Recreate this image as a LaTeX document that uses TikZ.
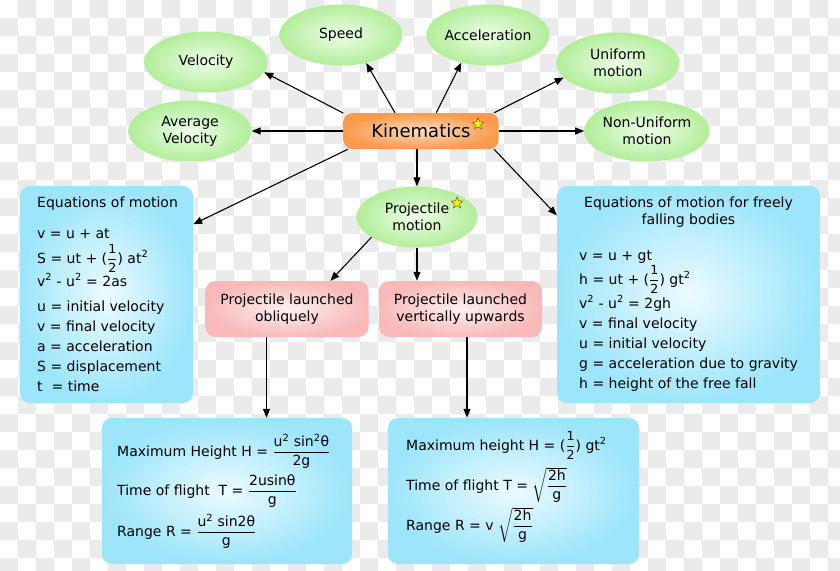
\documentclass[tikz,border=0pt]{standalone}
\usepackage{fontspec}
\usepackage{amsmath}
\setmainfont{DejaVu Sans}
\usetikzlibrary{shapes.geometric,arrows.meta}
\definecolor{checkgray}{HTML}{EBEBEB}
\definecolor{grin}{HTML}{EEFDE8}
\definecolor{grout}{HTML}{B2EE9A}
\definecolor{blin}{HTML}{ECFBFF}
\definecolor{blout}{HTML}{9CE5FB}
\definecolor{pkin}{HTML}{FCF0F0}
\definecolor{pkout}{HTML}{F9B9B9}
\definecolor{orin}{HTML}{FDDCC2}
\definecolor{orout}{HTML}{F99A4C}
\newcommand\sq{\textsuperscript{2}}
\newcommand\myhalf{(\ensuremath{\dfrac{\text{\fontsize{12.5}{14}\selectfont 1}}{\text{\fontsize{12.5}{14}\selectfont 2}}})}
\tikzset{
  ell/.style={ellipse, minimum width=123pt, minimum height=61pt, inner sep=0pt,
    inner color=grin, outer color=grout, align=center},
  kinbox/.style={rectangle, rounded corners=9pt, minimum width=155pt, minimum height=36pt,
    inner color=orin, outer color=orout, font=\fontsize{18}{20}\selectfont},
  bluebox/.style={rectangle, rounded corners=10pt, inner color=blin, outer color=blout},
  pinkbox/.style={rectangle, rounded corners=10pt, minimum width=163pt, minimum height=56pt,
    inner color=pkin, outer color=pkout, align=center},
  txt/.style={anchor=base west, inner sep=0pt},
  arr/.style={-{Triangle[length=9pt,width=7pt]}, line width=1.1pt},
  staricon/.style={star, star points=5, star point ratio=2.2, minimum size=12pt, inner sep=0pt,
    fill=yellow, draw=olive!70!black, line width=0.6pt}
}
\begin{document}
\begin{tikzpicture}[x=1pt,y=-1pt, font=\fontsize{14}{17}\selectfont]
\useasboundingbox (0,0) rectangle (840,570);
% checkerboard background
\foreach \i in {0,...,46}{
  \foreach \j in {0,...,31}{
    \pgfmathtruncatemacro\chk{mod(\i+\j,2)}
    \ifnum\chk=1 \fill[checkgray] (\i*18,\j*18) rectangle ++(18,18); \fi
  }
}
% top nodes
\node[ell] (vel) at (206,62) {Velocity};
\node[ell] (spd) at (341,35) {Speed};
\node[ell] (acc) at (488,35) {Acceleration};
\node[ell] (uni) at (618,63) {Uniform\\motion};
\node[ell] (non) at (647,131) {Non-Uniform\\motion};
\node[ell] (avg) at (190,131) {Average\\Velocity};
\node[kinbox] (kin) at (421,131) {Kinematics};
\node[staricon] (s1) at (478,124) {};
\node[ell, minimum width=121pt] (proj) at (417,217) {Projectile\\motion};
\node[staricon] (s2) at (457,203) {};
\node[pinkbox] (obl) at (287,309) {Projectile launched\\obliquely};
\node[pinkbox] (vert) at (460.5,309) {Projectile launched\\vertically upwards};
% boxes
\node[bluebox, minimum width=173pt, minimum height=217pt] (eqL) at (106.5,294.5) {};
\node[bluebox, minimum width=263pt, minimum height=217pt] (eqR) at (688.5,294.5) {};
\node[bluebox, minimum width=250pt, minimum height=146pt] (bl) at (227,491) {};
\node[bluebox, minimum width=251pt, minimum height=146pt] (br) at (513.5,491) {};
% left box text
\node[txt] (l0) at (37,207) {Equations of motion};
\node[txt] (l1) at (37,238) {v = u + at};
\node[txt] (l2) at (37,263) {S = ut + \myhalf{} at\sq};
\node[txt] (l3) at (37,286) {v\sq{} - u\sq{} = 2as};
\node[txt] (l4) at (37,311) {u = initial velocity};
\node[txt] (l5) at (37,331) {v = final velocity};
\node[txt] (l6) at (37,351) {a = acceleration};
\node[txt] (l7) at (37,371) {S = displacement};
\node[txt] (l8) at (37,391) {t\ \ = time};
% right box text
\node[align=center, inner sep=0pt] (r0) at (688.5,212.5) {Equations of motion for freely\\falling bodies};
\node[txt] (r1) at (579,260) {v = u + gt};
\node[txt] (r2) at (579,284) {h = ut + \myhalf{} gt\sq};
\node[txt] (r3) at (579,308) {v\sq{} - u\sq{} = 2gh};
\node[txt] (r4) at (579,328) {v = final velocity};
\node[txt] (r5) at (579,348) {u = initial velocity};
\node[txt] (r6) at (579,368) {g = acceleration due to gravity};
\node[txt] (r7) at (579,388) {h = height of the free fall};
% bottom left text
\node[txt] (b1) at (117,456) {Maximum Height H = \ensuremath{\dfrac{\text{u\sq{} sin\sq θ}}{\text{2g}}}};
\node[txt] (b2) at (117,495) {Time of flight\ \ T = \ensuremath{\dfrac{\text{2usinθ}}{\text{g}}}};
\node[txt] (b3) at (117,536) {Range R = \ensuremath{\dfrac{\text{u\sq{} sin2θ}}{\text{g}}}};
% bottom right text
\node[txt] (c1) at (406,450) {Maximum height H = \myhalf{} gt\sq};
\node[txt] (c2) at (406,490) {Time of flight T = \ensuremath{\sqrt{\dfrac{\text{2h}}{\text{g}}}}};
\node[txt] (c3) at (406,530) {Range R = v \ensuremath{\sqrt{\dfrac{\text{2h}}{\text{g}}}}};
% connectors
\draw[arr] (kin.167) -- (vel.-10);
\draw[arr] (kin.145) -- (spd.-48);
\draw[arr] (kin.50) -- (acc.-134);
\draw[arr] (kin.14) -- (uni.195);
\draw[arr] (kin.east) -- (non.west);
\draw[arr] (kin.west) -- (avg.east);
\draw[arr] (kin.194) -- (eqL.39.6);
\draw[arr] (kin.-14) -- (eqR.149.5);
\draw[arr] (kin.south -| proj.north) -- (proj.north);
\draw[arr] (proj.204.5) -- (obl.33.7);
\draw[arr] (proj.south) -- (proj.south |- vert.north);
\draw[arr] (obl.234.5) -- (obl.234.5 |- bl.north);
\draw[arr] (vert.-77) -- (vert.-77 |- br.north);
\end{tikzpicture}
\end{document}
